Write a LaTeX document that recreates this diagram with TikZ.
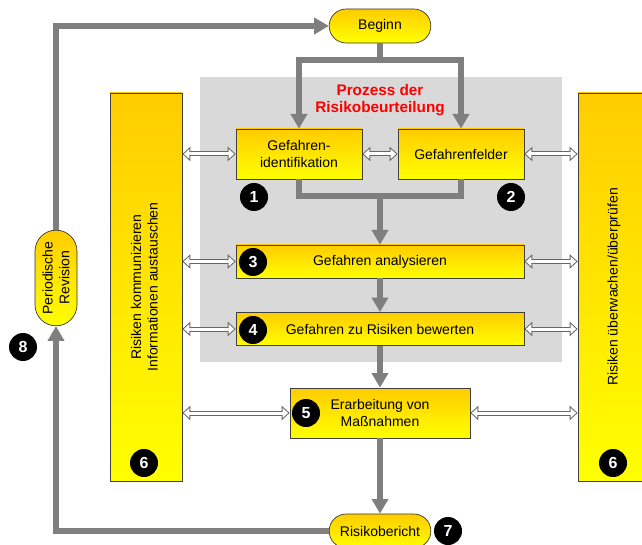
\documentclass[tikz,border=0pt]{standalone}
\usepackage{fontspec}
\setmainfont{Liberation Sans}
\usepackage{graphicx}
\usetikzlibrary{arrows.meta,shapes.misc,positioning}
\definecolor{ytop}{HTML}{FFCC00}
\definecolor{ybot}{HTML}{FFFF00}
\definecolor{flowgray}{HTML}{7F7F7F}
\definecolor{procgray}{HTML}{D9D9D9}

\begin{document}
\begin{tikzpicture}[
  x=0.75pt, y=-0.75pt,
  font=\fontsize{10.5}{12.5}\selectfont,
  box/.style={rectangle, draw=black!75, line width=0.5pt, top color=ytop,
              bottom color=ybot, align=center, inner sep=2pt},
  pill/.style={rounded rectangle, draw=black!80, line width=0.5pt,
               top color=ytop, bottom color=ybot, align=center, inner sep=2pt,
               minimum width=80.25pt, minimum height=25.5pt},
  column/.style={box, minimum width=54pt, minimum height=291pt},
  badge/.style={circle, fill=black, text=white, minimum size=21pt,
                inner sep=0pt, font=\fontsize{12}{12}\selectfont\bfseries},
  flow/.style={draw=flowgray, line width=4.5pt,
               -{Triangle[length=11pt,width=12pt]}},
  flowline/.style={draw=flowgray, line width=4.5pt},
  link/.style={draw=black!60, line width=3.75pt,
               {Triangle[length=6pt,width=10.5pt]}-{Triangle[length=6pt,width=10.5pt]},
               postaction={draw=white, line width=2.25pt,
                 shorten <=1.14pt, shorten >=1.14pt,
                 {Triangle[length=4.1pt,width=7.2pt]}-{Triangle[length=4.1pt,width=7.2pt]}}},
]
\clip (0,0) rectangle (642,545);
% process area
\fill[procgray] (200,77) rectangle (562,362);
\node[font=\fontsize{11.5}{13}\selectfont\bfseries, text=red, align=center]
  (title) at (380,100) {Prozess der\\Risikobeurteilung};
% start / end
\node[pill] (beginn) at (380,26) {Beginn};
\node[pill] (bericht) at (380,531) {Risikobericht};
\node[pill, rotate=90, minimum width=75.75pt, minimum height=31.5pt] (rev)
  at (56,278) {Periodische\\Revision};
% steps
\node[box, minimum width=94.5pt, minimum height=37.5pt] (gi) at (299,154)
  {Gefahren-\\identifikation};
\node[box, minimum width=94.5pt, minimum height=37.5pt] (gf) at (461,154)
  {Gefahrenfelder};
\node[box, minimum width=216pt, minimum height=24.75pt] (ana) at (380,261.5)
  {Gefahren analysieren};
\node[box, minimum width=216pt, minimum height=24.75pt] (bew) at (380,329)
  {Gefahren zu Risiken bewerten};
\node[box, minimum width=135pt, minimum height=37.5pt] (mass) at (380,413)
  {Erarbeitung von\\Maßnahmen};
% side columns
\node[column] (lcol) at (146,287)
  {\rotatebox{90}{\begin{tabular}{@{}c@{}}Risiken kommunizieren\\
   Informationen austauschen\end{tabular}}};
\node[column] (rcol) at (614,287)
  {\rotatebox{90}{Risiken überwachen/überprüfen}};
% main flow
\coordinate (merge) at (380,196);
\draw[flow] (beginn.south) -- ++(0,17) -| (gi.north);
\draw[flow] (beginn.south) -- ++(0,17) -| (gf.north);
\draw[flowline] (gi.south) |- (merge) -| (gf.south);
\draw[flow] (merge) -- (ana.north);
\draw[flow] (ana.south) -- (bew.north);
\draw[flow] (bew.south) -- (mass.north);
\draw[flow] (mass.south) -- (bericht.north);
% revision loop
\draw[flow] (bericht.west) -| (rev.west);
\draw[flow] (rev.east) |- (beginn.west);
% exchange with the columns
\draw[link] (lcol.east |- gi.west) -- (gi.west);
\draw[link] (gi.east) -- (gf.west);
\draw[link] (gf.east) -- (rcol.west |- gf.east);
\draw[link] (lcol.east |- ana.west) -- (ana.west);
\draw[link] (ana.east) -- (rcol.west |- ana.east);
\draw[link] (lcol.east |- bew.west) -- (bew.west);
\draw[link] (bew.east) -- (rcol.west |- bew.east);
\draw[link] (lcol.east |- mass.west) -- (mass.west);
\draw[link] (mass.east) -- (rcol.west |- mass.east);
% numbers
\node[badge] (n1) at (254,197) {1};
\node[badge] (n2) at (511,197) {2};
\node[badge] (n3) at (253,262) {3};
\node[badge] (n4) at (253,330) {4};
\node[badge] (n5) at (306,413) {5};
\node[badge] (n6l) at (144,463) {6};
\node[badge] (n6r) at (613,463) {6};
\node[badge] (n7) at (448,531) {7};
\node[badge] (n8) at (23,347) {8};
\end{tikzpicture}
\end{document}
